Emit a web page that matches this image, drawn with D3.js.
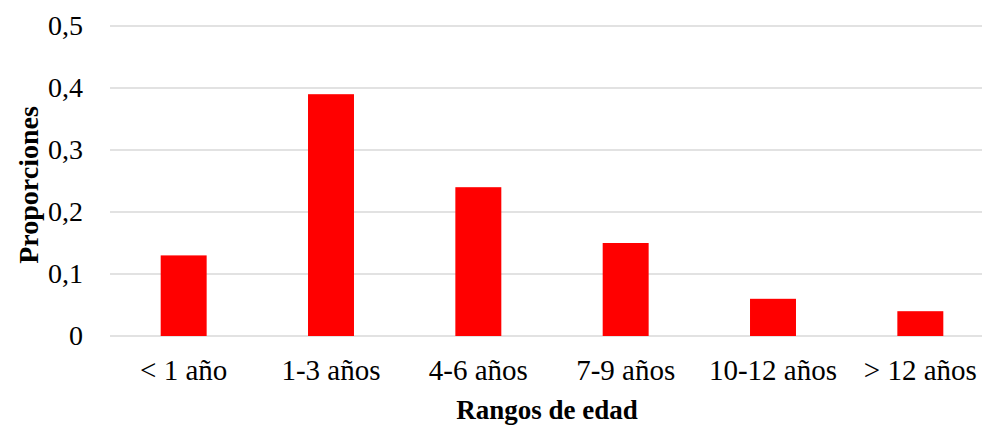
<!DOCTYPE html>
<html lang="es">
<head>
    <meta charset="utf-8">
    <title>Rangos de edad</title>
    <script src="https://cdn.jsdelivr.net/npm/d3@7"></script>
    <style>
        body { margin: 0; background: #fff; }
        svg { display: block; }
    </style>
</head>
<body>
    <script>
        var categories = ["< 1 año", "1-3 años", "4-6 años", "7-9 años", "10-12 años", "> 12 años"];
        var proportions = [0.13, 0.39, 0.24, 0.15, 0.06, 0.04];
        var yTicks = [0, 0.1, 0.2, 0.3, 0.4, 0.5];

        var w = 982;
        var h = 426;
        // plot area (right edge runs past the window, as in the source image)
        var plotLeft = 110, plotRight = 994, plotTop = 26, plotBottom = 336;

        var svg = d3.select("body")
            .append("svg")
            .attr("width", w)
            .attr("height", h);

        var x = d3.scaleBand()
            .domain(categories)
            .range([plotLeft, plotRight])
            .paddingInner(0.688)
            .paddingOuter(0.344);

        var y = d3.scaleLinear()
            .domain([0, 0.5])
            .range([plotBottom, plotTop]);

        var fmt = function(d) { return d === 0 ? "0" : d3.format(".1f")(d).replace(".", ","); };

        // gridlines
        svg.selectAll("line.grid")
            .data(yTicks)
            .enter()
            .append("line")
            .attr("class", "grid")
            .attr("x1", plotLeft)
            .attr("x2", plotRight)
            .attr("y1", function(d) { return y(d); })
            .attr("y2", function(d) { return y(d); })
            .attr("stroke", "#d9d9d9")
            .attr("stroke-width", 1.5);

        // y tick labels
        svg.selectAll("text.ytick")
            .data(yTicks)
            .enter()
            .append("text")
            .attr("class", "ytick")
            .text(fmt)
            .attr("x", 83)
            .attr("y", function(d) { return y(d) + 9; })
            .attr("text-anchor", "end")
            .attr("font-family", "Liberation Serif, serif")
            .attr("font-size", "28px")
            .attr("fill", "#000");

        // bars
        svg.selectAll("rect")
            .data(proportions)
            .enter()
            .append("rect")
            .attr("x", function(d, i) { return x(categories[i]); })
            .attr("y", function(d) { return y(d); })
            .attr("width", x.bandwidth())
            .attr("height", function(d) { return y(0) - y(d); })
            .attr("fill", "#ff0000");

        // x labels
        svg.selectAll("text.xtick")
            .data(categories)
            .enter()
            .append("text")
            .attr("class", "xtick")
            .text(function(d) { return d; })
            .attr("x", function(d) { return x(d) + x.bandwidth() / 2; })
            .attr("y", 380)
            .attr("text-anchor", "middle")
            .attr("font-family", "Liberation Serif, serif")
            .attr("font-size", "29px")
            .attr("fill", "#000");

        // axis titles
        svg.append("text")
            .text("Rangos de edad")
            .attr("x", 547)
            .attr("y", 419)
            .attr("text-anchor", "middle")
            .attr("font-family", "Liberation Serif, serif")
            .attr("font-weight", "bold")
            .attr("font-size", "27px");

        svg.append("text")
            .text("Proporciones")
            .attr("transform", "translate(38,185) rotate(-90)")
            .attr("text-anchor", "middle")
            .attr("font-family", "Liberation Serif, serif")
            .attr("font-weight", "bold")
            .attr("font-size", "28px");
    </script>
</body>
</html>
